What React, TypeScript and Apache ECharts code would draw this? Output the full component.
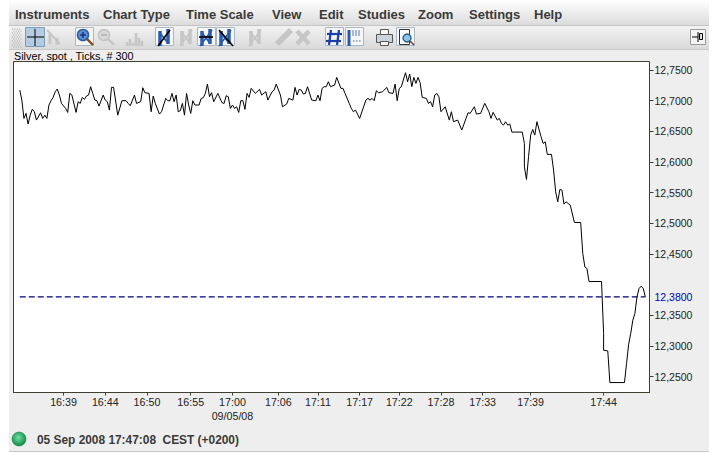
import React, { useEffect, useRef } from "react";
import * as echarts from "echarts";

const instrumentTitle = "Silver, spot , Ticks, # 300";
const statusText = "05 Sep 2008 17:47:08  CEST (+0200)";
const menuLabels = ["Instruments", "Chart Type", "Time Scale", "View", "Edit", "Studies", "Zoom", "Settings", "Help"];
const menuLefts = [15, 103, 186, 272, 319, 358, 418, 469, 534];

const timeTickIndexes = [21, 41, 61, 82, 102, 124, 143, 163, 182, 202, 222, 245, 280];
const timeTickLabels = ["16:39", "16:44", "16:50", "16:55", "17:00\n09/05/08", "17:06", "17:11", "17:17", "17:22", "17:28", "17:33", "17:39", "17:44"];
const priceTicks = [12.25, 12.3, 12.35, 12.45, 12.5, 12.55, 12.6, 12.65, 12.7, 12.75];
const lastPrice = 12.38;
const lastPriceSpan = [0, 300];

const tickIndexes = [
  0, 1, 2, 3, 4, 5, 6, 7, 8, 10, 11, 12, 13, 14, 15, 16, 17, 18, 19, 20, 22, 23, 24, 25, 27, 28, 29, 30, 31, 32, 33, 34, 35, 36, 37, 38,
  40, 41, 42, 43, 44, 45, 47, 49, 51, 52, 53, 55, 56, 58, 59, 60, 62, 63, 64, 65, 67, 68, 70, 71, 72, 73, 74, 75, 76, 77, 78, 79, 80, 81,
  82, 83, 84, 86, 87, 88, 89, 90, 91, 92, 93, 95, 97, 98, 99, 100, 101, 102, 103, 104, 105, 106, 107, 108, 109, 110,
  111, 113, 115, 116, 118, 119, 121, 122, 123, 125, 126, 128, 129, 131, 132, 133, 134, 135, 136, 137, 138, 140, 142, 143, 144, 145, 146, 147, 148, 149, 151, 152,
  154, 155, 156, 158, 159, 160, 161, 163, 166, 167, 168, 169, 170, 171, 172, 174, 176, 177, 179, 180, 181, 182, 183, 185, 186, 187, 188, 189, 190, 191, 192, 193,
  195, 196, 197, 198, 199, 200, 201, 202, 204, 206, 207, 208, 210, 212, 215, 216, 218, 219, 221, 223, 225, 226, 227, 229, 230, 231,
  232, 233, 234, 235, 236, 241, 242, 242, 243, 244, 245, 246, 247, 248, 250, 251, 252, 253, 255, 256, 257, 258, 259, 260, 261, 262, 263, 264, 266, 269,
  270, 271, 272, 273, 279, 280, 280, 282, 283, 290, 291, 292, 293, 294, 295, 296, 297, 298, 299, 300,
];
const silverPrices = [
  12.7173, 12.701, 12.6711, 12.6793, 12.6619, 12.6765, 12.6858, 12.682, 12.6684, 12.6803, 12.6711, 12.6765, 12.6711, 12.6929, 12.7, 12.7054, 12.7146, 12.719, 12.7092, 12.6956, 12.6874, 12.6809, 12.7119, 12.7092, 12.6809, 12.6983, 12.6956, 12.7054, 12.7021, 12.7075, 12.7092, 12.7228, 12.7119, 12.701, 12.7, 12.6912,
  12.7092, 12.701, 12.6983, 12.6847, 12.7217, 12.7217, 12.6765, 12.7, 12.7, 12.6956, 12.6918, 12.7092, 12.6956, 12.6983, 12.7211, 12.713, 12.7119, 12.682, 12.7075, 12.6956, 12.6782, 12.682, 12.7037, 12.7, 12.7, 12.7119, 12.6983, 12.7092, 12.682, 12.6836, 12.6956, 12.6765, 12.7119, 12.6929,
  12.6793, 12.7, 12.6929, 12.6929, 12.7037, 12.7048, 12.7119, 12.7271, 12.7065, 12.713, 12.6983, 12.7119, 12.6967, 12.6956, 12.7081, 12.7065, 12.6874, 12.6929, 12.6874, 12.6901, 12.6809, 12.7, 12.7, 12.6858, 12.7119, 12.7054,
  12.7201, 12.7119, 12.7184, 12.7092, 12.7146, 12.701, 12.7146, 12.7173, 12.7271, 12.7092, 12.6901, 12.6945, 12.7037, 12.701, 12.7217, 12.7092, 12.7184, 12.7173, 12.7108, 12.7119, 12.7228, 12.701, 12.7, 12.7092, 12.7, 12.7201, 12.7228, 12.7228, 12.7309, 12.7228, 12.7255, 12.738,
  12.7201, 12.7201, 12.7119, 12.6956, 12.6874, 12.682, 12.6847, 12.6711, 12.701, 12.7037, 12.701, 12.7037, 12.7, 12.7163, 12.713, 12.7146, 12.7217, 12.713, 12.7119, 12.7271, 12.7, 12.7201, 12.7228, 12.7456, 12.7309, 12.7435, 12.7228, 12.738, 12.7282, 12.738, 12.7293, 12.7054,
  12.7037, 12.6956, 12.6983, 12.6901, 12.7092, 12.7119, 12.7065, 12.682, 12.6901, 12.6684, 12.682, 12.6657, 12.6684, 12.6521, 12.6804, 12.6793, 12.6901, 12.6782, 12.6793, 12.6956, 12.682, 12.6711, 12.6809, 12.6684, 12.6711, 12.6629,
  12.6602, 12.6657, 12.6602, 12.6619, 12.6488, 12.6488, 12.6303, 12.5922, 12.5716, 12.6086, 12.6439, 12.6531, 12.6439, 12.6657, 12.6412, 12.6303, 12.633, 12.6124, 12.6124, 12.5868, 12.5514, 12.5351, 12.5552, 12.5541, 12.5313, 12.5351, 12.5324, 12.5297, 12.5014, 12.5014,
  12.4509, 12.4291, 12.4264, 12.4052, 12.4052, 12.3203, 12.2931, 12.292, 12.2404, 12.2404, 12.2714, 12.3029, 12.3203, 12.3421, 12.353, 12.3802, 12.3938, 12.3976, 12.3938, 12.3802,
];

const FONT = "'Liberation Sans', Arial, sans-serif";
const AXIS_COLOR = "#3f3f30";
const BLUE = "#2b5cab";
const GREY = "#c6c6c6";
const LAST_BLUE = "#0000c0";
const LAST_LINE = "#000080";

const rect = (x: number, y: number, width: number, height: number, fill: any, stroke?: string, z = 1) => ({
  type: "rect", z, shape: { x, y, width, height }, style: { fill, stroke: stroke ?? "none", lineWidth: 1 },
});
const seg = (x1: number, y1: number, x2: number, y2: number, stroke: string, lineWidth = 1) => ({
  type: "line", z: 2, shape: { x1, y1, x2, y2 }, style: { stroke, lineWidth },
});
const frame = (x: number, y: number, s = 18) => rect(x + 0.5, y + 0.5, s, s, "#f6f6f6", "#a9b8c6");

const glyphN = (x: number, color: string, slash: string) => [
  seg(x + 5, 31, x + 5, 46, color, 3.5),
  seg(x + 13, 29, x + 13, 44, color, 3.5),
  seg(x + 5, 33, x + 13, 43, color, 2),
  seg(x + 3, 46, x + 15, 30, slash, 1.6),
];

function toolbar(): any[] {
  const items: any[] = [];
  for (let i = 0; i < 4; i++) for (let j = 0; j < 10; j++)
    items.push(rect(12 + i * 2.4 + (j % 2) * 1.2, 28.5 + j * 2, 1, 1, "#a8a8a8"));
  items.push(rect(25.5, 27.5, 19, 19, "#b4cbe2", "#7f9cb8"), seg(27, 37, 44, 37, "#000"), seg(35, 29, 35, 46, "#000"));
  items.push(seg(47, 30, 60, 44, GREY, 2), seg(50, 44, 50, 34, GREY, 3), seg(57, 45, 57, 38, GREY, 3));
  items.push(rect(75.5, 27.5, 18, 18, "#f4f4f4", "#a9b8c6"),
    { type: "circle", z: 2, shape: { cx: 83, cy: 35, r: 5.5 }, style: { fill: "#5d8fd8", stroke: "#2c5f9e", lineWidth: 1.5 } },
    seg(80, 35, 86, 35, "#10306a", 1.4), seg(83, 32, 83, 38, "#10306a", 1.4), seg(87, 39, 93, 45, "#7b4a20", 2.4));
  items.push({ type: "circle", z: 2, shape: { cx: 104, cy: 35, r: 5.5 }, style: { fill: "#d8d8d8", stroke: GREY, lineWidth: 1.5 } },
    seg(101, 35, 107, 35, "#a8a8a8", 1.2), seg(108, 39, 114, 45, GREY, 2.4));
  [[127, 42], [130, 39], [133, 43], [136, 33], [139, 38], [142, 41]].forEach(([x, y]) => items.push(seg(x, y, x, 46, GREY, 2.6)));
  items.push(frame(155, 27), ...glyphN(155, BLUE, "#000"));
  items.push(...glyphN(177, GREY, GREY));
  items.push(frame(197, 27), ...glyphN(197, BLUE, BLUE), seg(199, 37, 213, 37, "#000", 1.6));
  items.push(frame(216, 27), ...glyphN(216, BLUE, BLUE), seg(219, 30, 233, 46, "#000", 1.6));
  items.push(...glyphN(246, GREY, GREY));
  items.push(seg(277, 44, 291, 30, GREY, 6));
  items.push(seg(297, 31, 309, 44, GREY, 4.5), seg(309, 31, 297, 44, GREY, 4.5));
  items.push(frame(325, 27), seg(331, 30, 329, 45, "#1b3fa8", 2.2), seg(339, 30, 337, 45, "#1b3fa8", 2.2), seg(327, 34, 342, 34, "#1b3fa8", 2.2), seg(326, 41, 341, 41, "#1b3fa8", 2.2));
  items.push(frame(345, 27), seg(349, 30, 349, 46, BLUE, 3));
  [353, 356, 359].forEach((x) => items.push(seg(x, 30, x, 36, "#5d7db8", 1), seg(x, 41, x + 1.5, 41, "#3a5ea8", 1)));
  items.push(rect(376.5, 34.5, 16, 8, "#c9d4dc", "#555"), rect(380.5, 29.5, 8, 5, "#f8f8f8", "#555"), rect(380.5, 41.5, 8, 4, "#f8f8f8", "#555"));
  items.push(frame(396, 27), rect(399.5, 29.5, 10, 15, "#fff", "#333"),
    { type: "circle", z: 2, shape: { cx: 407, cy: 38, r: 4 }, style: { fill: "#8fc4e8", stroke: "#27608f", lineWidth: 1.4 } },
    seg(410, 41, 414, 45, "#7b3a20", 1.6));
  items.push(rect(690.5, 29.5, 15, 15, "#f4f4f4", "#9a9a9a"), seg(692, 37, 698, 37, "#000"), seg(698, 32, 698, 42, "#000"), rect(699.5, 33.5, 3, 6, "#ddd", "#000"));
  return items;
}

function chrome(): any[] {
  const menuGradient = { type: "linear", x: 0, y: 0, x2: 0, y2: 1, colorStops: [{ offset: 0, color: "#ffffff" }, { offset: 1, color: "#dcdcdc" }] };
  const barGradient = { type: "linear", x: 0, y: 0, x2: 0, y2: 1, colorStops: [{ offset: 0, color: "#f2f2f2" }, { offset: 1, color: "#dadada" }] };
  return [
    rect(9, 0, 700, 452, "#eeeeee", undefined, -5),
    rect(9, 0, 700, 25, menuGradient, undefined, -4),
    rect(9, 26, 700, 23, barGradient, undefined, -4),
    seg(9, 25.5, 709, 25.5, "#c4c4c4"),
    seg(9, 49.5, 709, 49.5, "#c8c8c8"),
    seg(9, 451.5, 709, 451.5, "#c8c8c8"),
    ...menuLabels.map((text, i) => ({
      type: "text", z: 3, x: menuLefts[i], y: 14,
      style: { text, font: `bold 13px ${FONT}`, fill: "#3a3a3a", textVerticalAlign: "middle", textBaseline: "middle" },
    })),
    ...toolbar(),
    { type: "text", z: 3, x: 14, y: 56, style: { text: instrumentTitle, font: `10.8px ${FONT}`, fill: "#000", textBaseline: "middle", textVerticalAlign: "middle" } },
    {
      type: "circle", z: 3, shape: { cx: 19, cy: 439, r: 7 },
      style: {
        fill: { type: "radial", x: 0.45, y: 0.4, r: 0.6, colorStops: [{ offset: 0, color: "#6fe0a0" }, { offset: 1, color: "#0d8a45" }] },
        stroke: "#0b7a3c", lineWidth: 0.5,
      },
    },
    { type: "text", z: 3, x: 37, y: 440, style: { text: statusText, font: `bold 11.9px ${FONT}`, fill: "#3a3a3a", textBaseline: "middle", textVerticalAlign: "middle" } },
  ];
}

export default function App() {
  const ref = useRef<HTMLDivElement>(null);
  useEffect(() => {
    document.body.style.margin = "0";
    const chart = echarts.init(ref.current!, undefined, { renderer: "svg" });
    chart.setOption({
      animation: false,
      backgroundColor: "#ffffff",
      graphic: { elements: chrome() },
      grid: { left: 13.5, right: 721 - 649.5, top: 61.5, bottom: 453 - 392.5, show: true, backgroundColor: "#ffffff", borderColor: AXIS_COLOR, borderWidth: 1 },
      xAxis: {
        type: "value", min: -3, max: 302, splitLine: { show: false },
        axisLine: { show: true, onZero: false, lineStyle: { color: AXIS_COLOR, width: 1 } },
        axisTick: { show: true, inside: false, length: 3, lineStyle: { color: AXIS_COLOR, width: 1 }, customValues: timeTickIndexes },
        axisLabel: {
          show: true, customValues: timeTickIndexes, margin: 2, color: "#222", fontFamily: FONT, fontSize: 10.7, lineHeight: 14,
          formatter: (v: number) => timeTickLabels[timeTickIndexes.indexOf(v)] ?? "",
        },
      },
      yAxis: {
        type: "value", position: "right", min: 12.2242, max: 12.7639, splitLine: { show: false },
        axisLine: { show: false, onZero: false },
        axisTick: { show: true, length: 4, lineStyle: { color: AXIS_COLOR }, customValues: priceTicks },
        axisLabel: {
          show: true, customValues: [...priceTicks, lastPrice], margin: 5, fontFamily: FONT, fontSize: 10.5,
          color: (v: any) => (Number(v) === lastPrice ? LAST_BLUE : "#222"),
          formatter: (v: number) => v.toFixed(4).replace(".", ","),
        },
      },
      series: [
        {
          type: "line", showSymbol: false, silent: true, symbol: "none",
          data: lastPriceSpan.map((t) => [t, lastPrice]),
          itemStyle: { color: LAST_LINE },
          lineStyle: { color: LAST_LINE, width: 1.2, type: [6, 3] },
        },
        {
          type: "line", showSymbol: false, silent: true, symbol: "none",
          data: tickIndexes.map((t, i) => [t, silverPrices[i]]),
          itemStyle: { color: "#000000" },
          lineStyle: { color: "#000000", width: 1 },
        },
      ],
    });
    return () => chart.dispose();
  }, []);
  return <div ref={ref} style={{ position: "absolute", left: 0, top: 0, width: 721, height: 453 }} />;
}
